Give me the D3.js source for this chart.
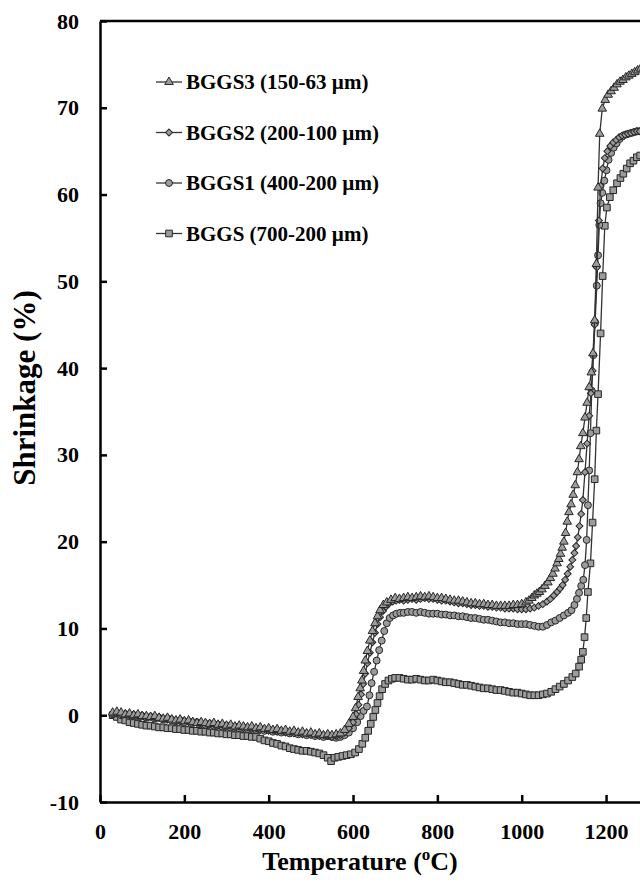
<!DOCTYPE html>
<html>
<head>
<meta charset="utf-8">
<script src="https://cdn.jsdelivr.net/npm/d3@7"></script>
<style>
  body { margin: 0; background: #fff; }
  svg { display: block; font-family: "Liberation Serif", "Times New Roman", serif; font-weight: bold; }
  .axis path, .axis line { stroke: #000; stroke-width: 2.5; }
  .axis text { font-size: 22px; font-weight: bold; fill: #000; font-family: "Liberation Serif", serif; }
</style>
</head>
<body>
<svg width="640" height="882"></svg>
<script>
// temperature (C), shrinkage (%)
var bggs3 = [[30,0.3],[40,0.4],[50,0.3],[60,0.1],[70,0.2],[80,0.0],[90,0.1],[100,-0.1],[110,-0.1],[120,-0.2],[130,-0.1],[140,-0.3],[150,-0.4],[160,-0.3],[170,-0.5],[180,-0.6],[190,-0.5],[200,-0.7],[210,-0.6],[220,-0.8],[230,-0.9],[240,-0.8],[250,-0.9],[260,-1.0],[270,-0.9],[280,-1.1],[290,-1.0],[300,-1.2],[310,-1.1],[320,-1.3],[330,-1.2],[340,-1.3],[350,-1.4],[360,-1.3],[370,-1.5],[380,-1.4],[390,-1.6],[400,-1.5],[410,-1.7],[420,-1.6],[430,-1.8],[440,-1.7],[450,-1.9],[460,-1.8],[470,-2.0],[480,-1.9],[490,-2.1],[500,-2.0],[510,-2.2],[520,-2.1],[530,-2.3],[540,-2.2],[550,-2.3],[560,-2.2],[570,-2.1],[580,-1.7],[590,-1.0],[600,-0.2],[606,0.8],[612,2.1],[617,3.1],[621,4.0],[625,5.1],[629,6.3],[634,7.4],[640,8.6],[646,9.7],[652,10.6],[658,11.4],[664,12.1],[672,12.7],[680,13.0],[690,13.3],[700,13.5],[710,13.4],[720,13.5],[730,13.6],[740,13.5],[750,13.6],[760,13.7],[770,13.6],[780,13.7],[790,13.6],[800,13.5],[810,13.5],[820,13.4],[830,13.3],[840,13.2],[850,13.2],[860,13.1],[870,13.0],[880,12.9],[890,12.9],[900,12.8],[910,12.8],[920,12.7],[930,12.7],[940,12.6],[950,12.6],[960,12.6],[970,12.6],[980,12.7],[990,12.7],[1000,12.8],[1010,13.0],[1017,13.2],[1024,13.5],[1030,13.8],[1036,14.0],[1042,14.2],[1048,14.5],[1055,14.9],[1062,15.3],[1068,15.8],[1074,16.3],[1079,16.9],[1084,17.5],[1088,18.0],[1092,18.6],[1096,19.3],[1100,20.0],[1104,21.0],[1108,22.3],[1112,23.4],[1117,24.3],[1122,25.4],[1127,26.5],[1132,28.0],[1136,29.5],[1140,31.0],[1145,32.5],[1150,34.3],[1155,36.0],[1160,37.8],[1165,39.5],[1169,41.7],[1173,45.5],[1177,52.0],[1181,60.8],[1185,67.0],[1191,69.9],[1198,70.9],[1205,71.5],[1212,71.9],[1219,72.3],[1226,72.7],[1233,73.0],[1240,73.2],[1247,73.5],[1254,73.7],[1261,73.9],[1268,74.1],[1275,74.3],[1282,74.5],[1290,74.6]];

var bggs2 = [[30,0.2],[40,0.3],[50,0.1],[60,0.2],[70,0.0],[80,0.1],[90,-0.1],[100,0.0],[110,-0.2],[120,-0.1],[130,-0.3],[140,-0.2],[150,-0.4],[160,-0.5],[170,-0.4],[180,-0.6],[190,-0.7],[200,-0.6],[210,-0.8],[220,-0.7],[230,-0.9],[240,-1.0],[250,-0.9],[260,-1.1],[270,-1.0],[280,-1.2],[290,-1.1],[300,-1.3],[310,-1.2],[320,-1.4],[330,-1.3],[340,-1.5],[350,-1.4],[360,-1.6],[370,-1.5],[380,-1.7],[390,-1.6],[400,-1.8],[410,-1.7],[420,-1.9],[430,-1.8],[440,-2.0],[450,-1.9],[460,-2.1],[470,-2.0],[480,-2.2],[490,-2.1],[500,-2.3],[510,-2.2],[520,-2.4],[530,-2.3],[540,-2.4],[550,-2.5],[560,-2.4],[570,-2.3],[580,-2.0],[590,-1.5],[600,-0.8],[607,0.1],[613,1.2],[619,2.4],[624,3.6],[629,4.8],[634,6.0],[640,7.2],[646,8.4],[652,9.5],[658,10.5],[664,11.3],[671,12.0],[678,12.5],[686,12.9],[694,13.1],[702,13.2],[710,13.3],[720,13.2],[730,13.3],[740,13.4],[750,13.3],[760,13.4],[770,13.5],[780,13.4],[790,13.4],[800,13.3],[810,13.2],[820,13.2],[830,13.1],[840,13.0],[850,12.9],[860,12.9],[870,12.8],[880,12.7],[890,12.7],[900,12.6],[910,12.6],[920,12.5],[930,12.5],[940,12.4],[950,12.4],[960,12.3],[970,12.3],[980,12.3],[990,12.2],[1000,12.2],[1010,12.2],[1020,12.3],[1030,12.4],[1040,12.6],[1050,12.8],[1060,13.1],[1068,13.4],[1076,13.8],[1084,14.2],[1091,14.6],[1097,15.0],[1103,15.6],[1109,16.3],[1115,17.1],[1120,17.9],[1125,18.7],[1129,19.5],[1133,20.5],[1137,21.8],[1141,23.2],[1145,24.8],[1150,28.0],[1155,31.3],[1160,34.5],[1164,37.1],[1168,39.7],[1173,45.0],[1178,51.6],[1183,57.0],[1187,61.0],[1192,63.0],[1197,64.2],[1203,65.0],[1210,65.6],[1217,66.0],[1224,66.3],[1231,66.6],[1238,66.8],[1245,66.9],[1252,67.0],[1259,67.1],[1266,67.2],[1273,67.3],[1280,67.3],[1290,67.4]];

var bggs1 = [[30,0.1],[40,0.2],[50,0.0],[60,0.1],[70,-0.1],[80,0.0],[90,-0.2],[100,-0.1],[110,-0.3],[120,-0.2],[130,-0.4],[140,-0.3],[150,-0.5],[160,-0.4],[170,-0.6],[180,-0.7],[190,-0.6],[200,-0.8],[210,-0.7],[220,-0.9],[230,-0.8],[240,-1.0],[250,-1.1],[260,-1.0],[270,-1.2],[280,-1.1],[290,-1.3],[300,-1.2],[310,-1.4],[320,-1.3],[330,-1.5],[340,-1.4],[350,-1.6],[360,-1.5],[370,-1.7],[380,-1.6],[390,-1.8],[400,-1.7],[410,-1.9],[420,-1.8],[430,-2.0],[440,-1.9],[450,-2.1],[460,-2.0],[470,-2.2],[480,-2.1],[490,-2.3],[500,-2.2],[510,-2.4],[520,-2.3],[530,-2.5],[540,-2.4],[550,-2.5],[560,-2.6],[570,-2.5],[580,-2.3],[590,-2.0],[600,-1.5],[610,-0.8],[618,-0.1],[625,0.5],[633,1.0],[639,2.3],[644,3.7],[650,5.0],[656,6.3],[662,7.5],[668,8.6],[674,9.7],[680,10.6],[687,11.2],[695,11.5],[703,11.7],[712,11.8],[720,11.8],[730,11.9],[740,11.9],[750,11.8],[760,11.9],[770,11.8],[780,11.7],[790,11.7],[800,11.7],[810,11.6],[820,11.6],[830,11.5],[840,11.5],[850,11.4],[860,11.4],[870,11.3],[880,11.2],[890,11.2],[900,11.1],[910,11.0],[920,11.0],[930,10.9],[940,10.8],[950,10.7],[960,10.7],[970,10.6],[980,10.6],[990,10.5],[1000,10.5],[1010,10.5],[1020,10.4],[1030,10.3],[1040,10.2],[1050,10.2],[1060,10.4],[1070,10.7],[1080,10.9],[1090,11.2],[1100,11.5],[1110,11.8],[1118,12.1],[1125,12.7],[1131,13.4],[1136,14.1],[1141,14.9],[1146,15.6],[1150,17.3],[1154,20.2],[1157,24.2],[1160,28.2],[1163,32.5],[1166,37.4],[1170,41.5],[1174,45.3],[1178,49.5],[1181,53.0],[1184,56.5],[1187,59.0],[1191,60.2],[1196,61.6],[1201,62.8],[1206,64.0],[1212,64.8],[1218,65.4],[1225,65.9],[1232,66.4],[1239,66.7],[1246,66.9],[1253,67.0],[1260,67.1],[1267,67.2],[1274,67.3],[1281,67.3],[1290,67.4]];

var bggs = [[30,0.0],[40,-0.2],[50,-0.5],[60,-0.6],[70,-0.8],[80,-0.9],[90,-1.0],[100,-1.1],[110,-1.2],[120,-1.2],[130,-1.3],[140,-1.4],[150,-1.4],[160,-1.5],[170,-1.5],[180,-1.6],[190,-1.6],[200,-1.7],[210,-1.7],[220,-1.8],[230,-1.8],[240,-1.9],[250,-1.9],[260,-2.0],[270,-2.0],[280,-2.1],[290,-2.1],[300,-2.2],[310,-2.2],[320,-2.3],[330,-2.3],[340,-2.4],[350,-2.4],[360,-2.5],[370,-2.5],[380,-2.7],[390,-2.9],[400,-3.0],[410,-3.2],[420,-3.3],[430,-3.5],[440,-3.6],[450,-3.8],[460,-3.9],[470,-4.0],[480,-4.1],[490,-4.1],[500,-4.2],[510,-4.3],[520,-4.4],[530,-4.6],[540,-4.9],[548,-5.3],[556,-4.9],[565,-4.8],[575,-4.7],[585,-4.6],[595,-4.5],[605,-4.3],[614,-3.9],[622,-3.3],[629,-2.6],[636,-1.8],[642,-1.0],[648,-0.2],[653,0.6],[658,1.4],[663,2.2],[669,3.0],[676,3.6],[684,4.0],[692,4.2],[700,4.3],[710,4.3],[720,4.2],[730,4.1],[740,4.1],[750,4.2],[760,4.1],[770,4.0],[780,4.0],[790,4.1],[800,4.0],[810,3.9],[820,3.8],[830,3.8],[840,3.7],[850,3.6],[860,3.5],[870,3.5],[880,3.4],[890,3.3],[900,3.2],[910,3.1],[920,3.1],[930,3.0],[940,2.9],[950,2.9],[960,2.8],[970,2.7],[980,2.6],[990,2.6],[1000,2.5],[1010,2.4],[1020,2.3],[1030,2.3],[1040,2.3],[1050,2.4],[1060,2.5],[1070,2.7],[1080,3.0],[1090,3.3],[1100,3.6],[1110,4.0],[1120,4.4],[1128,4.8],[1136,5.6],[1141,6.4],[1145,7.3],[1149,9.0],[1153,11.2],[1157,14.2],[1163,17.5],[1168,22.2],[1173,27.2],[1177,32.8],[1181,37.0],[1187,44.0],[1192,50.6],[1197,56.4],[1202,58.5],[1209,59.7],[1217,60.5],[1226,61.3],[1234,61.9],[1241,62.4],[1249,63.0],[1257,63.6],[1265,63.9],[1273,64.3],[1281,64.5],[1290,64.6]];

var legendNames = ['BGGS3 (150-63 \u00b5m)', 'BGGS2 (200-100 \u00b5m)', 'BGGS1 (400-200 \u00b5m)', 'BGGS (700-200 \u00b5m)'];
var xTicks = [0, 200, 400, 600, 800, 1000, 1200];
var yTicks = [-10, 0, 10, 20, 30, 40, 50, 60, 70, 80];

var series = [
  { name: legendNames[0], data: bggs3, shape: d3.symbolTriangle, size: 32, rot: 0 },
  { name: legendNames[1], data: bggs2, shape: d3.symbolSquare, size: 24, rot: 45 },
  { name: legendNames[2], data: bggs1, shape: d3.symbolCircle, size: 38, rot: 0 },
  { name: legendNames[3], data: bggs, shape: d3.symbolSquare, size: 44, rot: 0 }
];

var svg = d3.select('svg');

var x = d3.scaleLinear().domain([0, 1400]).range([100, 690.4]);
var y = d3.scaleLinear().domain([-10, 80]).range([802, 21]);

var line = d3.line()
  .x(function(d) { return x(d[0]); })
  .y(function(d) { return y(d[1]); });

// draw bottom series first
series.slice().reverse().forEach(function(s) {
  var g = svg.append('g');
  g.append('path')
    .datum(s.data)
    .attr('d', line)
    .attr('fill', 'none')
    .attr('stroke', '#333')
    .attr('stroke-width', 1.3);
  g.selectAll('path.m')
    .data(s.data)
    .enter()
    .append('path')
    .attr('class', 'm')
    .attr('d', d3.symbol().type(s.shape).size(s.size))
    .attr('transform', function(d) {
      return 'translate(' + x(d[0]) + ',' + y(d[1]) + ') rotate(' + s.rot + ')';
    })
    .attr('fill', '#9c9c9c')
    .attr('stroke', '#262626')
    .attr('stroke-width', 1);
});

// axes
var fmt = function(d) { return String(d); };

svg.append('g')
  .attr('class', 'x axis')
  .attr('transform', 'translate(0,802)')
  .call(d3.axisBottom(x).tickValues(xTicks).tickFormat(fmt).tickSize(-7).tickSizeOuter(0).tickPadding(21));

svg.append('g')
  .attr('class', 'y axis')
  .attr('transform', 'translate(100,0)')
  .call(d3.axisLeft(y).tickValues(yTicks).tickFormat(fmt).tickSize(-7).tickSizeOuter(0).tickPadding(21));

svg.append('line')
  .attr('x1', 100).attr('x2', 690.4)
  .attr('y1', 21).attr('y2', 21)
  .attr('stroke', '#000')
  .attr('stroke-width', 2.5);

// legend
var legend = svg.append('g').attr('class', 'legend');
series.forEach(function(s, i) {
  var ly = 82 + i * 50.5;
  legend.append('line')
    .attr('x1', 156).attr('x2', 182)
    .attr('y1', ly).attr('y2', ly)
    .attr('stroke', '#333')
    .attr('stroke-width', 1.3);
  legend.append('path')
    .attr('d', d3.symbol().type(s.shape).size(s.size))
    .attr('transform', 'translate(169,' + ly + ') rotate(' + s.rot + ')')
    .attr('fill', '#9c9c9c')
    .attr('stroke', '#262626')
    .attr('stroke-width', 1);
  legend.append('text')
    .attr('x', 186)
    .attr('y', ly)
    .attr('dy', '0.35em')
    .style('font-size', '21px')
    .text(s.name);
});

// axis titles
var xt = svg.append('text')
  .attr('x', 360)
  .attr('y', 870)
  .attr('text-anchor', 'middle')
  .style('font-size', '26px')
  .text('Temperature (');
xt.append('tspan').attr('dy', -10).style('font-size', '17px').text('o');
xt.append('tspan').attr('dy', 10).text('C)');

svg.append('text')
  .attr('transform', 'translate(35,388) rotate(-90)')
  .attr('text-anchor', 'middle')
  .style('font-size', '31px')
  .text('Shrinkage (%)');
</script>
</body>
</html>
